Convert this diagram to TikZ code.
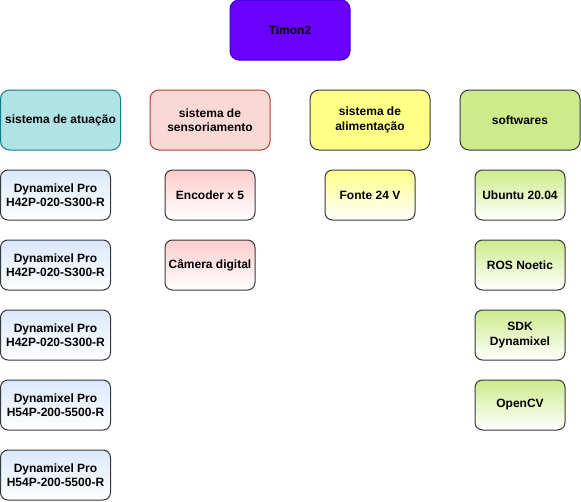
\documentclass[tikz,border=0pt]{standalone}
\usepackage{fontspec}
\setmainfont{Liberation Sans}
\usepackage{tikz}
\definecolor{roxo}{HTML}{6A00FF}
\definecolor{roxoborda}{HTML}{3700CC}
\definecolor{azulfundo}{HTML}{B0E3E6}
\definecolor{azulborda}{HTML}{0E8088}
\definecolor{azulclaro}{HTML}{DAE8FC}
\definecolor{rosafundo}{HTML}{FAD9D5}
\definecolor{rosaborda}{HTML}{AE4132}
\definecolor{rosaclaro}{HTML}{FFCCCC}
\definecolor{amarelo}{HTML}{FFFF88}
\definecolor{verde}{HTML}{CDEB8B}
\definecolor{cinza}{HTML}{36393D}
\tikzset{
	caixa/.style={draw,rectangle,rounded corners=9pt,line width=1pt,inner sep=0pt,outer sep=0pt,
		minimum width=120pt,minimum height=60pt,align=center,
		font=\fontsize{12}{14.4}\selectfont\bfseries},
	item/.style={caixa,draw=cinza,rounded corners=7.5pt,minimum width=90pt,minimum height=50pt,
		bottom color=white,top color=#1},
	motor/.style={item=azulclaro,minimum width=110pt}
}
\begin{document}
\begin{tikzpicture}[x=1pt,y=-1pt]
\useasboundingbox (0,0) rectangle (581,501);

\node[caixa,fill=roxo,draw=roxoborda] (timon) at (290,30) {Timon2};

\node[caixa,fill=azulfundo,draw=azulborda] (atuacao) at (60.5,120) {sistema de atuação};
\node[caixa,fill=rosafundo,draw=rosaborda] (sensor) at (210,120) {sistema de\\sensoriamento};
\node[caixa,fill=amarelo,draw=cinza] (alimentacao) at (370,120) {sistema de\\alimentação};
\node[caixa,fill=verde,draw=cinza] (softwares) at (520,120) {softwares};

\node[motor] (motor1) at (55.5,195) {Dynamixel Pro\\H42P-020-S300-R};
\node[motor] (motor2) at (55.5,265) {Dynamixel Pro\\H42P-020-S300-R};
\node[motor] (motor3) at (55.5,335) {Dynamixel Pro\\H42P-020-S300-R};
\node[motor] (motor4) at (55.5,405) {Dynamixel Pro\\H54P-200-5500-R};
\node[motor] (motor5) at (55.5,475) {Dynamixel Pro\\H54P-200-5500-R};

\node[item=rosaclaro] (encoder) at (210,195) {Encoder x 5};
\node[item=rosaclaro] (camera) at (210,265) {Câmera digital};

\node[item=amarelo] (fonte) at (370,195) {Fonte 24 V};

\node[item=verde] (ubuntu) at (520,195) {Ubuntu 20.04};
\node[item=verde] (ros) at (520,265) {ROS Noetic};
\node[item=verde] (sdk) at (520,335) {SDK\\Dynamixel};
\node[item=verde] (opencv) at (520,405) {OpenCV};

\end{tikzpicture}
\end{document}
